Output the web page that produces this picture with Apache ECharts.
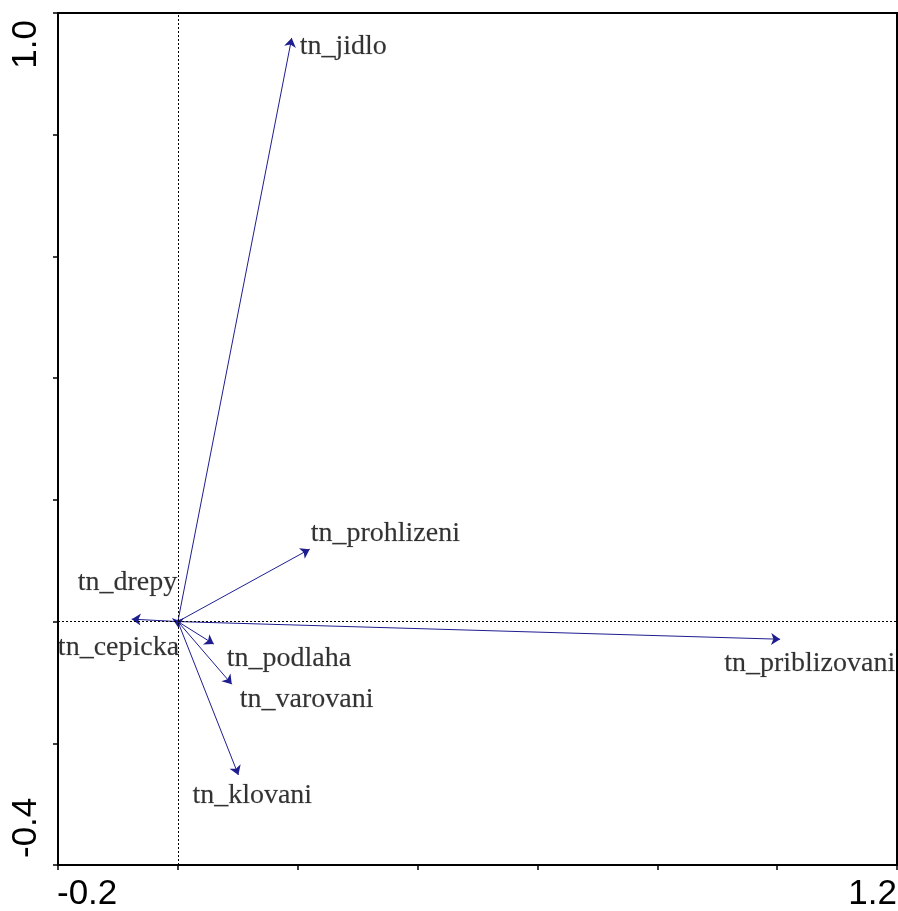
<!DOCTYPE html>
<html>
<head>
<meta charset="utf-8">
<script src="https://cdn.jsdelivr.net/npm/echarts@6/dist/echarts.min.js"></script>
<style>
  html, body { margin: 0; padding: 0; background: #fff; }
  #chart { width: 898px; height: 911px; }
</style>
</head>
<body>
<div id="chart"></div>
<script>
// Variable names and their arrow end-points (axis 1, axis 2)
var varNames = ['tn_jidlo', 'tn_prohlizeni', 'tn_priblizovani', 'tn_drepy', 'tn_cepicka', 'tn_podlaha', 'tn_varovani', 'tn_klovani'];
var axis1 = [0.190, 0.220, 1.005, -0.077, 0.000, 0.060, 0.090, 0.101];
var axis2 = [0.959, 0.119, -0.029, 0.004, -0.009, -0.037, -0.103, -0.252];

// Axis ranges and the end labels printed on them
var xRange = [-0.2, 1.2];
var yRange = [-0.4, 1.0];
var xTickLabels = ['-0.2', '1.2'];
var yTickLabels = ['-0.4', '1.0'];

// Label placement next to each arrow tip: [dx, dy] in pixels
var labelOffsets = {
  'tn_jidlo': [8, 9],
  'tn_prohlizeni': [1, -16],
  'tn_priblizovani': [-56, 24],
  'tn_drepy': [-54, -36],
  'tn_cepicka': [-120, 21],
  'tn_podlaha': [13, 15],
  'tn_varovani': [8, 15],
  'tn_klovani': [-46, 21]
};

var arrowColor = '#1e1e90';
var chart = echarts.init(document.getElementById('chart'), null, { renderer: 'canvas' });

var arrowData = varNames.map(function (n, i) {
  return { name: n, coords: [[0, 0], [axis1[i], axis2[i]]] };
});
var tipData = varNames.map(function (n, i) {
  return {
    name: n,
    value: [axis1[i], axis2[i]],
    label: { offset: labelOffsets[n] }
  };
});

var option = {
  animation: false,
  backgroundColor: '#fff',
  grid: {
    left: 58, right: 1, top: 13, bottom: 46,
    show: true, borderColor: '#000', borderWidth: 2, backgroundColor: 'transparent'
  },
  xAxis: {
    type: 'value', min: xRange[0], max: xRange[1], interval: 0.2,
    axisLine: { show: true, onZero: false, lineStyle: { color: '#000', width: 2 } },
    axisTick: { show: true, length: 5, lineStyle: { color: '#000', width: 1.5 } },
    axisLabel: { show: false },
    splitLine: { show: false }
  },
  yAxis: {
    type: 'value', min: yRange[0], max: yRange[1], interval: 0.2,
    axisLine: { show: true, onZero: false, lineStyle: { color: '#000', width: 2 } },
    axisTick: { show: true, length: 5, lineStyle: { color: '#000', width: 1.5 } },
    axisLabel: { show: false },
    splitLine: { show: false }
  },
  series: [
    {
      type: 'lines',
      coordinateSystem: 'cartesian2d',
      silent: true,
      symbol: ['none', 'arrow'],
      symbolSize: 9,
      lineStyle: { color: arrowColor, width: 1, opacity: 1 },
      data: arrowData,
      markLine: {
        silent: true,
        symbol: ['none', 'none'],
        label: { show: false },
        lineStyle: { color: '#000', width: 1, type: [2, 2] },
        data: [{ xAxis: 0 }, { yAxis: 0 }]
      },
      z: 3
    },
    {
      type: 'scatter',
      symbolSize: 0,
      silent: true,
      data: tipData,
      label: {
        show: true,
        position: 'inside',
        align: 'left',
        verticalAlign: 'middle',
        formatter: '{b}',
        fontFamily: 'Liberation Serif, Times New Roman, serif',
        fontSize: 28,
        color: '#000',
        textBorderColor: 'rgba(0,0,0,0.35)',
        textBorderWidth: 0.4
      },
      z: 4
    }
  ]
};
chart.setOption(option);

// End labels of both axes, placed at the axis ends
var p0 = chart.convertToPixel({ gridIndex: 0 }, [xRange[0], yRange[0]]);
var p1 = chart.convertToPixel({ gridIndex: 0 }, [xRange[1], yRange[1]]);
var tickFont = { fontFamily: 'Liberation Sans, Arial, sans-serif', fontSize: 35, fill: '#000' };
function txt(t, x, y, align, vAlign, rot) {
  return {
    type: 'text', x: x, y: y, rotation: rot || 0, silent: true,
    style: Object.assign({ text: t, align: align, verticalAlign: vAlign }, tickFont)
  };
}
chart.setOption({
  graphic: [
    txt(xTickLabels[0], p0[0] - 1, p0[1] + 12, 'left', 'top'),
    txt(xTickLabels[1], p1[0], p0[1] + 12, 'right', 'top'),
    txt(yTickLabels[0], p0[0] - 32, p0[1] - 7, 'left', 'middle', Math.PI / 2),
    txt(yTickLabels[1], p0[0] - 32, p1[1] + 7, 'right', 'middle', Math.PI / 2)
  ]
});
</script>
</body>
</html>
